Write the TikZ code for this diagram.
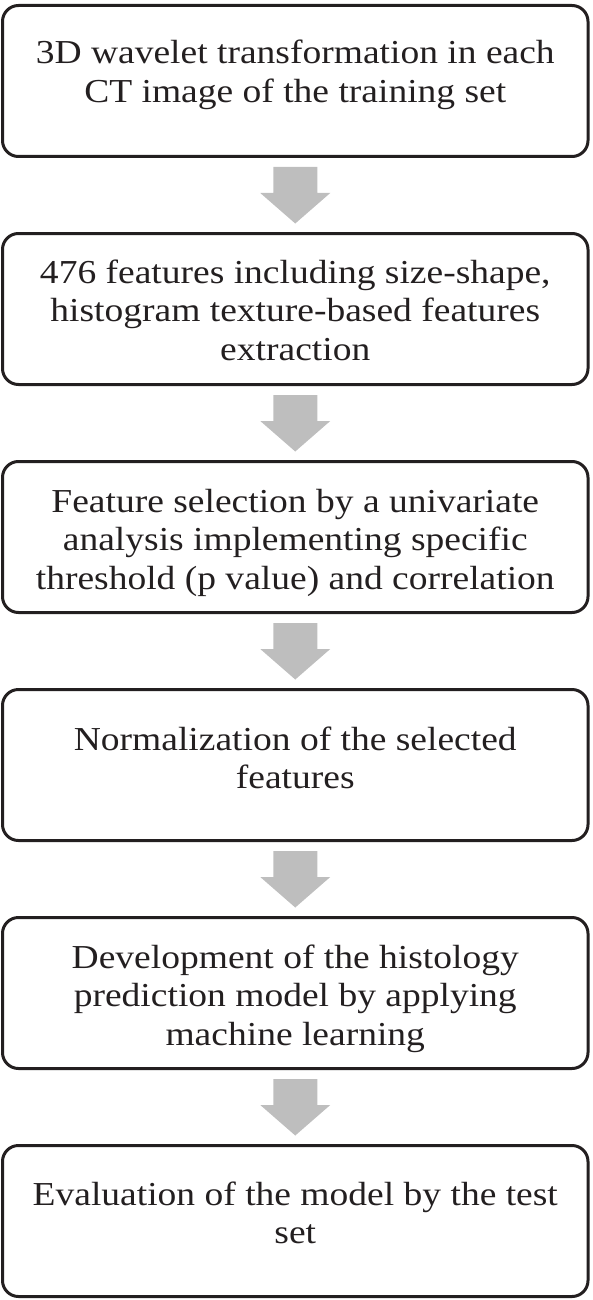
\documentclass[tikz,border=0pt]{standalone}
\usepackage{fontspec}
\setmainfont{Liberation Serif}[FakeStretch=1.12]
\usetikzlibrary{calc}
\definecolor{ink}{HTML}{231F20}
\definecolor{arrowgray}{HTML}{BEBEBE}
\begin{document}
\begin{tikzpicture}[x=1pt,y=1pt,
  box/.style={draw=ink, line width=3pt, rounded corners=16pt, minimum width=585.5pt, minimum height=151pt, inner sep=0pt, outer sep=0pt},
  txt/.style={anchor=base, inner sep=0pt, text=ink, font=\fontsize{33.5}{38.5}\selectfont},
  flowarrow/.style={fill=arrowgray}]
\useasboundingbox (0,0) rectangle (592,-1300);
\node[box] (b1) at (295.25,-81) {};
\node[box] (b2) at (295.25,-309) {};
\node[box] (b3) at (295.25,-537) {};
\node[box] (b4) at (295.25,-765) {};
\node[box] (b5) at (295.25,-993) {};
\node[box] (b6) at (295.25,-1221) {};
\newcommand{\steptext}[1]{\parbox[t]{570pt}{\centering #1}}
\node[txt] (t1) at ($(b1.north)+(0,-58.5)$) {\steptext{3D wavelet transformation in each\\CT image of the training set}};
\node[txt] (t2) at ($(b2.north)+(0,-49.5)$) {\steptext{476 features including size-shape,\\histogram texture-based features\\extraction}};
\node[txt] (t3) at ($(b3.north)+(0,-50.5)$) {\steptext{Feature selection by a univariate\\analysis implementing specific\\threshold (p value) and correlation}};
\node[txt] (t4) at ($(b4.north)+(0,-60.5)$) {\steptext{Normalization of the selected\\features}};
\node[txt] (t5) at ($(b5.north)+(0,-50.5)$) {\steptext{Development of the histology\\prediction model by applying\\machine learning}};
\node[txt] (t6) at ($(b6.north)+(0,-59.5)$) {\steptext{Evaluation of the model by the test\\set}};
\foreach \a/\b in {b1/b2,b2/b3,b3/b4,b4/b5,b5/b6}{
  \fill[flowarrow] ($(\a.south)+(-22,-10.5)$) -- ($(\a.south)+(22,-10.5)$)
    -- ($(\a.south)+(22,-36.5)$) -- ($(\a.south)+(35,-36.5)$)
    -- ($(\b.north)+(0,10)$)
    -- ($(\a.south)+(-35,-36.5)$) -- ($(\a.south)+(-22,-36.5)$) -- cycle;
}
\end{tikzpicture}
\end{document}
